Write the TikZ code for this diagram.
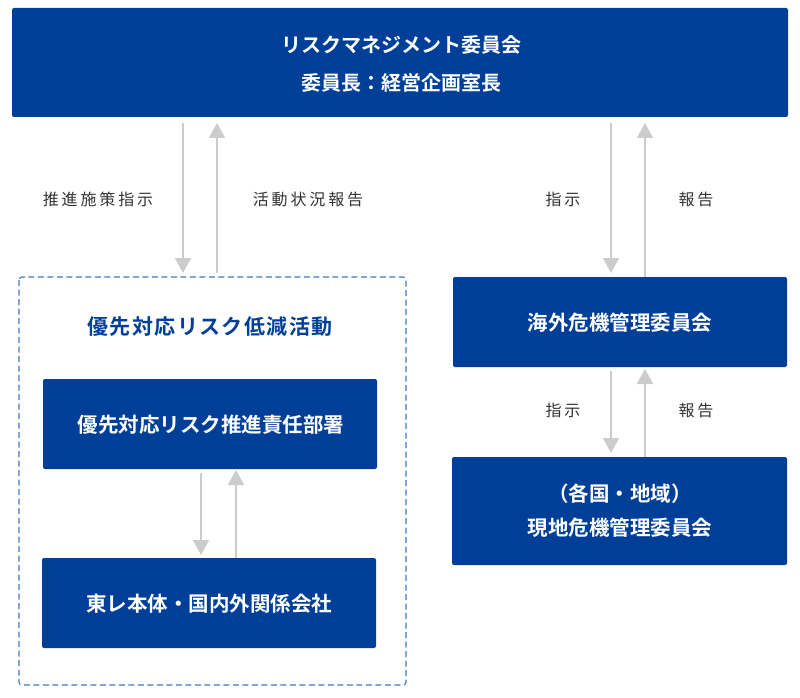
\documentclass[tikz,border=0pt]{standalone}
\usepackage{fontspec}
\setmainfont{Noto Sans CJK JP}
\newfontfamily\jpb{Noto Sans CJK JP Bold}
\newfontfamily\jpbsp[LetterSpace=7]{Noto Sans CJK JP Bold}
\newfontfamily\jplbl[LetterSpace=18]{Noto Sans CJK JP}
\usetikzlibrary{arrows.meta}
\definecolor{navy}{HTML}{003F98}
\definecolor{dashblue}{HTML}{3F74C9}
\definecolor{arrgray}{HTML}{CCCCCC}
\definecolor{txtgray}{HTML}{333333}
\tikzset{
  bluebox/.style={text=white, align=center, font=\jpb\fontsize{20.5}{34}\selectfont, inner sep=0pt},
  boxfill/.style={fill=navy, rounded corners=2pt},
  flow/.style={draw=arrgray, line width=2pt, -{Triangle[width=16pt,length=15pt]}},
  lbl/.style={text=txtgray, font=\jplbl\fontsize{16}{18}\selectfont},
}
\begin{document}
\begin{tikzpicture}[x=1pt,y=-1pt]
\useasboundingbox (0,0) rectangle (800,698);
% top box
\fill[boxfill] (12,8) rectangle (788,117);
\node[bluebox, font=\jpb\fontsize{20}{38}\selectfont] (top) at (401,64) {リスクマネジメント委員会\\委員長：経営企画室長};
\coordinate (topL1) at (183,123);
\coordinate (topL2) at (217,123);
\coordinate (topR1) at (611,123);
\coordinate (topR2) at (645,123);
% dashed group
\draw[dashblue, dash pattern=on 6pt off 3.5pt, line width=1.1pt, rounded corners=3pt] (19,277) rectangle (406,685);
\coordinate (grpT1) at (183,273);
\coordinate (grpT2) at (217,273);
\node[text=navy, font=\jpbsp\fontsize{21}{24}\selectfont] (gtitle) at (210,327) {優先対応リスク低減活動};
% box A
\fill[boxfill] (43,379) rectangle (377,469);
\node[bluebox] (a) at (211,425) {優先対応リスク推進責任部署};
% box B
\fill[boxfill] (42,558) rectangle (376,648);
\node[bluebox] (b) at (209,604) {東レ本体・国内外関係会社};
% right box 1
\fill[boxfill] (453,277) rectangle (787,367);
\node[bluebox] (r1) at (620,323) {海外危機管理委員会};
% right box 2
\fill[boxfill] (452,457) rectangle (787,565);
\node[bluebox] (r2) at (620,511) {（各国・地域）\\現地危機管理委員会};
% arrows
\draw[flow] (topL1) -- (grpT1);
\draw[flow] (grpT2) -- (topL2);
\draw[flow] (topR1) -- (611,273);
\draw[flow] (645,277) -- (topR2);
\draw[flow] (201,473) -- (201,555);
\draw[flow] (236,558) -- (236,470);
\draw[flow] (611,371) -- (611,453);
\draw[flow] (645,457) -- (645,369);
% labels
\node[lbl] (l1) at (98,199) {推進施策指示};
\node[lbl] (l2) at (308,199) {活動状況報告};
\node[lbl] (l3) at (563,199) {指示};
\node[lbl] (l4) at (696,199) {報告};
\node[lbl] (l5) at (563,410) {指示};
\node[lbl] (l6) at (696,410) {報告};
\end{tikzpicture}
\end{document}
